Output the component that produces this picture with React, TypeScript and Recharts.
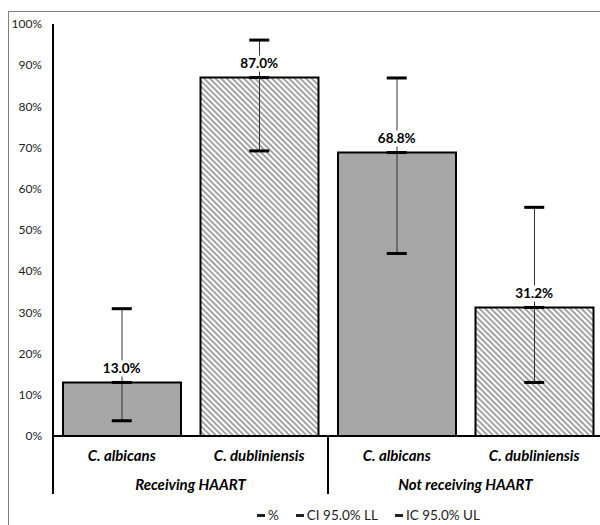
import React from 'react';
import { ComposedChart, Bar, Cell, Line, XAxis, YAxis, ErrorBar, LabelList, Legend } from 'recharts';

const categories = ['C. albicans', 'C. dubliniensis', 'C. albicans', 'C. dubliniensis'];
const groups = ['Receiving HAART', 'Receiving HAART', 'Not receiving HAART', 'Not receiving HAART'];
const pct = [13.0, 87.0, 68.8, 31.2];
const lowerLimit = [3.7, 69.2, 44.3, 13.0];
const upperLimit = [30.9, 96.1, 86.9, 55.5];
const yTicks = [0, 10, 20, 30, 40, 50, 60, 70, 80, 90, 100];
const legendNames = ['%', 'CI 95.0% LL', 'IC 95.0% UL'];

const data = categories.map((c, i) => ({
  cat: c,
  group: groups[i],
  pct: pct[i],
  ll: lowerLimit[i],
  ul: upperLimit[i],
  err: [pct[i] - lowerLimit[i], upperLimit[i] - pct[i]],
}));

const FONT = 'Lato, "Open Sans", sans-serif';

const Dash = (props: any) => {
  const { cx, cy } = props;
  if (cx == null || cy == null) return null;
  return <rect x={cx - 10} y={cy - 1.5} width={20} height={3} fill="#000" />;
};

const CatTick = (props: any) => {
  const { x, y, payload } = props;
  return (
    <text x={x} y={y + 20} dy="0.35em" textAnchor="middle" fontFamily={FONT} fontSize={15}
      fontWeight="bold" fontStyle="italic" fill="#000">{payload.value}</text>
  );
};

const GroupTick = (props: any) => {
  const { x, y, payload, index } = props;
  const off = payload.offset || 0;
  return (
    <g>
      <text x={x} y={y + 19} dy="0.35em" textAnchor="middle" fontFamily={FONT} fontSize={15}
        fontWeight="bold" fontStyle="italic" fill="#000">{payload.value}</text>
      {index === 0 && (
        <>
          <line x1={x - off} x2={x - off} y1={y - 30} y2={y + 28} stroke="#000" strokeWidth={2} />
          <line x1={x + off} x2={x + off} y1={y - 30} y2={y + 28} stroke="#000" strokeWidth={2} />
        </>
      )}
    </g>
  );
};

const ValueLabel = (props: any) => {
  const { x, y, value } = props;
  const txt = `${Number(value).toFixed(1)}%`;
  return (
    <g>
      <rect x={x - 22} y={y - 22} width={44} height={16} fill="#fff" />
      <text x={x} y={y - 14} dy="0.35em" textAnchor="middle" fontFamily={FONT} fontSize={13.5}
        fontWeight="bold" fill="#000">{txt}</text>
    </g>
  );
};

const LegendContent = () => (
  <div style={{ display: 'flex', gap: 17, fontFamily: FONT, fontSize: 13.5, color: '#222' }}>
    {legendNames.map((n) => (
      <span key={n} style={{ display: 'flex', alignItems: 'center', gap: 3 }}>
        <span style={{ display: 'inline-block', width: 8, height: 3, background: '#222' }} />
        {n}
      </span>
    ))}
  </div>
);

export default function App() {
  return (
    <div style={{ position: 'fixed', left: 8, top: 11, borderTop: '1px solid #808080', borderLeft: '1px solid #808080', width: 591, height: 513, overflow: 'hidden', background: '#fff' }}>
      <ComposedChart width={600} height={513} data={data}
        margin={{ top: 12, right: 6, bottom: 15, left: 0 }} barCategoryGap={10}>
        <defs>
          <pattern id="hatch" patternUnits="userSpaceOnUse" width={4} height={4} patternTransform="rotate(45)">
            <rect width={4} height={4} fill="#fff" />
            <line x1={0} y1={1} x2={4} y2={1} stroke="#858585" strokeWidth={1.5} />
          </pattern>
        </defs>
        <XAxis xAxisId="cat" dataKey="cat" type="category" tickLine={false} tickSize={0} tickMargin={0}
          height={30} axisLine={{ stroke: '#000', strokeWidth: 2 }} tick={<CatTick />} interval={0} />
        <XAxis xAxisId="grp" dataKey="group" type="category" allowDuplicatedCategory={false}
          tickLine={false} tickSize={0} tickMargin={0} height={28} axisLine={false} tick={<GroupTick />} interval={0} />
        <YAxis domain={[0, 100]} ticks={yTicks} tickFormatter={(v: number) => `${v}%`} width={44}
          tickLine={false} tickMargin={5} axisLine={{ stroke: '#000', strokeWidth: 2 }}
          tick={{ fontFamily: FONT, fontSize: 12, fill: '#222' }} interval={0} />
        <Bar xAxisId="cat" dataKey="pct" stroke="#000" strokeWidth={2} isAnimationActive={false} legendType="none">
          {data.map((d, i) => (
            <Cell key={i} fill={i % 2 === 0 ? '#a6a6a6' : 'url(#hatch)'} />
          ))}
          <ErrorBar dataKey="err" width={0} stroke="#333" strokeWidth={1} direction="y" />
        </Bar>
        <Line xAxisId="cat" dataKey="ll" name={legendNames[1]} stroke="none" dot={<Dash />} activeDot={false} isAnimationActive={false} />
        <Line xAxisId="cat" dataKey="ul" name={legendNames[2]} stroke="none" dot={<Dash />} activeDot={false} isAnimationActive={false} />
        <Line xAxisId="cat" dataKey="pct" name={legendNames[0]} stroke="none" dot={<Dash />} activeDot={false} isAnimationActive={false}>
          <LabelList dataKey="pct" content={<ValueLabel />} />
        </Line>
        <Legend content={<LegendContent />} wrapperStyle={{ left: 248, bottom: 2, width: 'auto' }} />
      </ComposedChart>
    </div>
  );
}
